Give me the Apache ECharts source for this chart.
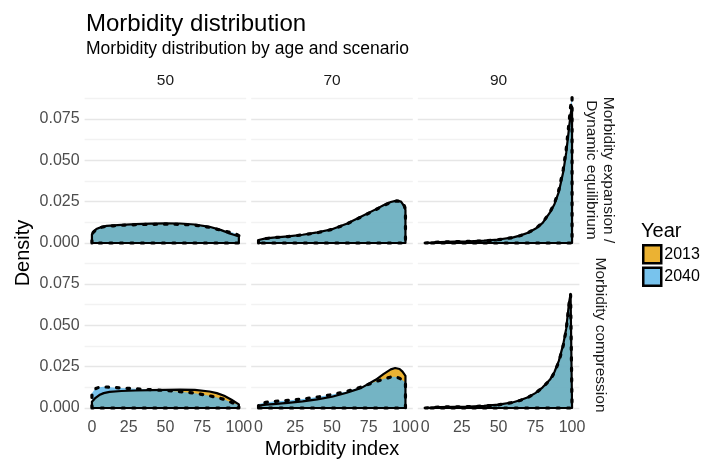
<!DOCTYPE html>
<html>
<head>
<meta charset="utf-8">
<title>Morbidity distribution</title>
<script src="https://cdn.jsdelivr.net/npm/echarts@6.0.0/dist/echarts.min.js"></script>
<style>
  html, body { margin: 0; padding: 0; background: #fff; }
  #chart { width: 709px; height: 459px; }
</style>
</head>
<body>
<div id="chart"></div>
<script>
// facet labels
const ages = ["50", "70", "90"];
const scenarios = ["Morbidity expansion /\nDynamic equilibrium", "Morbidity compression"];
const years = ["2013", "2040"];
const xTicks = [0, 25, 50, 75, 100];

// density estimates (x = morbidity index)
const xExp50 = [0, 1, 3, 6, 10, 15, 20, 30, 40, 50, 60, 70, 80, 88, 93, 96, 100];
const exp50_2013 = [0.0052, 0.0068, 0.0084, 0.0096, 0.0104, 0.0107, 0.0110, 0.0114, 0.0117, 0.0119, 0.0118, 0.0112, 0.0098, 0.0078, 0.0060, 0.0051, 0.0040];
const exp50_2040 = [0.0050, 0.0066, 0.0082, 0.0094, 0.0101, 0.0104, 0.0107, 0.0111, 0.0113, 0.0114, 0.0113, 0.0108, 0.0095, 0.0077, 0.0066, 0.0064, 0.0045];

const xExp70 = [0, 5, 10, 20, 30, 40, 50, 60, 70, 80, 85, 90, 94, 97, 99, 100];
const exp70_2013 = [0.0018, 0.0028, 0.0033, 0.0040, 0.0050, 0.0064, 0.0083, 0.0117, 0.0160, 0.0205, 0.0228, 0.0248, 0.0256, 0.0250, 0.0225, 0.0200];
const exp70_2040 = [0.0016, 0.0027, 0.0032, 0.0039, 0.0049, 0.0062, 0.0082, 0.0115, 0.0158, 0.0203, 0.0226, 0.0246, 0.0254, 0.0252, 0.0230, 0.0205];

const xExp90 = [0, 10, 20, 30, 40, 50, 60, 65, 70, 75, 80, 85, 88, 91, 94, 96, 98, 99, 100];
const exp90_2013 = [0.0005, 0.0006, 0.0008, 0.0010, 0.0014, 0.0021, 0.0034, 0.0046, 0.0062, 0.0086, 0.0122, 0.0185, 0.0235, 0.0310, 0.0430, 0.0545, 0.0700, 0.0780, 0.0825];
const exp90_2040 = [0.0005, 0.0006, 0.0008, 0.0010, 0.0013, 0.0020, 0.0033, 0.0045, 0.0062, 0.0086, 0.0123, 0.0188, 0.0240, 0.0320, 0.0445, 0.0565, 0.0735, 0.0825, 0.0880];

const xCmp50 = [0, 2, 5, 8, 12, 20, 30, 40, 50, 60, 70, 80, 85, 90, 95, 100];
const cmp50_2013 = [0.0038, 0.0058, 0.0078, 0.0090, 0.0098, 0.0103, 0.0106, 0.0108, 0.0110, 0.0111, 0.0110, 0.0100, 0.0090, 0.0074, 0.0050, 0.0022];
const cmp50_2040 = [0.0090, 0.0115, 0.0126, 0.0128, 0.0126, 0.0121, 0.0116, 0.0111, 0.0106, 0.0099, 0.0090, 0.0074, 0.0064, 0.0052, 0.0034, 0.0018];

const xCmp70 = [0, 5, 10, 20, 30, 40, 50, 60, 70, 80, 85, 90, 93, 96, 98, 100];
const cmp70_2013 = [0.0014, 0.0020, 0.0024, 0.0031, 0.0040, 0.0052, 0.0068, 0.0092, 0.0122, 0.0172, 0.0205, 0.0234, 0.0242, 0.0236, 0.0220, 0.0195];
const cmp70_2040 = [0.0024, 0.0034, 0.0039, 0.0046, 0.0054, 0.0066, 0.0081, 0.0100, 0.0128, 0.0160, 0.0175, 0.0187, 0.0189, 0.0180, 0.0168, 0.0155];

const xCmp90 = [0, 10, 20, 30, 40, 50, 60, 65, 70, 75, 80, 85, 88, 91, 94, 96, 98, 99, 100];
const cmp90_2013 = [0.0005, 0.0006, 0.0007, 0.0009, 0.0013, 0.0020, 0.0035, 0.0048, 0.0065, 0.0090, 0.0125, 0.0172, 0.0218, 0.0285, 0.0385, 0.0480, 0.0640, 0.0690, 0.0680];
const cmp90_2040 = [0.0005, 0.0006, 0.0007, 0.0009, 0.0012, 0.0019, 0.0034, 0.0047, 0.0064, 0.0089, 0.0124, 0.0170, 0.0214, 0.0280, 0.0378, 0.0472, 0.0632, 0.0685, 0.0676];

const panels = [
  { row: 0, col: 0, x: xExp50, y2013: exp50_2013, y2040: exp50_2040 },
  { row: 0, col: 1, x: xExp70, y2013: exp70_2013, y2040: exp70_2040 },
  { row: 0, col: 2, x: xExp90, y2013: exp90_2013, y2040: exp90_2040 },
  { row: 1, col: 0, x: xCmp50, y2013: cmp50_2013, y2040: cmp50_2040 },
  { row: 1, col: 1, x: xCmp70, y2013: cmp70_2013, y2040: cmp70_2040 },
  { row: 1, col: 2, x: xCmp90, y2013: cmp90_2013, y2040: cmp90_2040 }
];

const FONT = "Liberation Sans, Arial, sans-serif";
const fill2013 = "rgba(230,159,0,0.8)";
const fill2040 = "rgba(86,180,233,0.8)";
const colLeft = [84.6, 251.2, 417.8];
const rowTop = [98.4, 263.4];
const panelW = 161.6;
const panelH = 144.6;

// full outline like geom_density(outline.type = "full")
function closedPath(xs, ys) {
  const pts = [[xs[0], 0]];
  xs.forEach((x, i) => pts.push([x, ys[i]]));
  pts.push([xs[xs.length - 1], 0], [xs[0], 0]);
  return pts;
}

const isMajor = v => Math.abs(v / 0.025 - Math.round(v / 0.025)) < 1e-6;

const grid = [], xAxis = [], yAxis = [], series = [];
panels.forEach((p, i) => {
  grid.push({ left: colLeft[p.col], top: rowTop[p.row], width: panelW, height: panelH });
  xAxis.push({
    type: "value", gridIndex: i, min: -5, max: 105,
    axisLine: { show: false }, axisTick: { show: false }, splitLine: { show: false },
    axisLabel: {
      show: p.row === 1, customValues: xTicks, margin: 12,
      color: "#4d4d4d", fontSize: 16, fontFamily: FONT
    }
  });
  yAxis.push({
    type: "value", gridIndex: i, min: 0, max: 0.0875, interval: 0.0125,
    axisLine: { show: false }, axisTick: { show: false },
    splitLine: { lineStyle: { color: ["#e6e6e6", "#f2f2f2"], width: 1.3 } },
    axisLabel: {
      show: p.col === 0, margin: 5, color: "#4d4d4d", fontSize: 16, fontFamily: FONT,
      formatter: v => (isMajor(v) ? v.toFixed(3) : "")
    }
  });
  series.push({
    name: "2013", type: "line", xAxisIndex: i, yAxisIndex: i,
    data: closedPath(p.x, p.y2013), showSymbol: false, clip: false,
    itemStyle: { color: fill2013 },
    lineStyle: { color: "#000", width: 2.2, join: "round" },
    areaStyle: { color: fill2013, opacity: 1 },
    emphasis: { disabled: true }
  });
  series.push({
    name: "2040", type: "line", xAxisIndex: i, yAxisIndex: i,
    data: closedPath(p.x, p.y2040), showSymbol: false, clip: false,
    itemStyle: { color: fill2040 },
    lineStyle: { color: "#000", width: 3.2, type: [2.5, 8], cap: "round", join: "round" },
    areaStyle: { color: fill2040, opacity: 1 },
    emphasis: { disabled: true }
  });
});

const graphic = [
  { type: "text", left: 86, top: 12, style: { text: "Morbidity distribution", fontSize: 24, fontFamily: FONT, fill: "#000" } },
  { type: "text", left: 86, top: 40, style: { text: "Morbidity distribution by age and scenario", fontSize: 17.5, fontFamily: FONT, fill: "#000" } },
  { type: "text", x: 332, y: 449, style: { text: "Morbidity index", fontSize: 20, fontFamily: FONT, fill: "#000", align: "center", verticalAlign: "middle" } },
  { type: "text", x: 23, y: 253, rotation: Math.PI / 2, style: { text: "Density", fontSize: 20, fontFamily: FONT, fill: "#000", align: "center", verticalAlign: "middle" } },
  { type: "text", x: 641, y: 231, style: { text: "Year", fontSize: 20, fontFamily: FONT, fill: "#000", verticalAlign: "middle" } }
];
ages.forEach((a, c) => {
  graphic.push({ type: "text", x: colLeft[c] + panelW / 2, y: 81,
    style: { text: a, fontSize: 15.5, fontFamily: FONT, fill: "#1a1a1a", align: "center", verticalAlign: "middle" } });
});
const rowMid = [170, 335];
scenarios.forEach((s, r) => {
  graphic.push({ type: "text", x: 600, y: rowMid[r], rotation: -Math.PI / 2,
    style: { text: s, fontSize: 15.5, lineHeight: 17, fontFamily: FONT, fill: "#1a1a1a", align: "center", verticalAlign: "middle" } });
});

const chart = echarts.init(document.getElementById("chart"));
chart.setOption({
  animation: false,
  backgroundColor: "#fff",
  legend: {
    data: [
      { name: years[0], itemStyle: { color: "rgb(235,178,51)" } },
      { name: years[1], itemStyle: { color: "rgb(120,195,237)" } }
    ],
    orient: "vertical", left: 642, top: 244, padding: 0,
    icon: "rect", itemWidth: 18, itemHeight: 18, itemGap: 2,
    itemStyle: { borderColor: "#000", borderWidth: 2.5 },
    textStyle: { fontSize: 16, fontFamily: FONT, color: "#000", padding: [0, 0, 0, -2] },
    selectedMode: false
  },
  grid, xAxis, yAxis, series, graphic
});
</script>
</body>
</html>
